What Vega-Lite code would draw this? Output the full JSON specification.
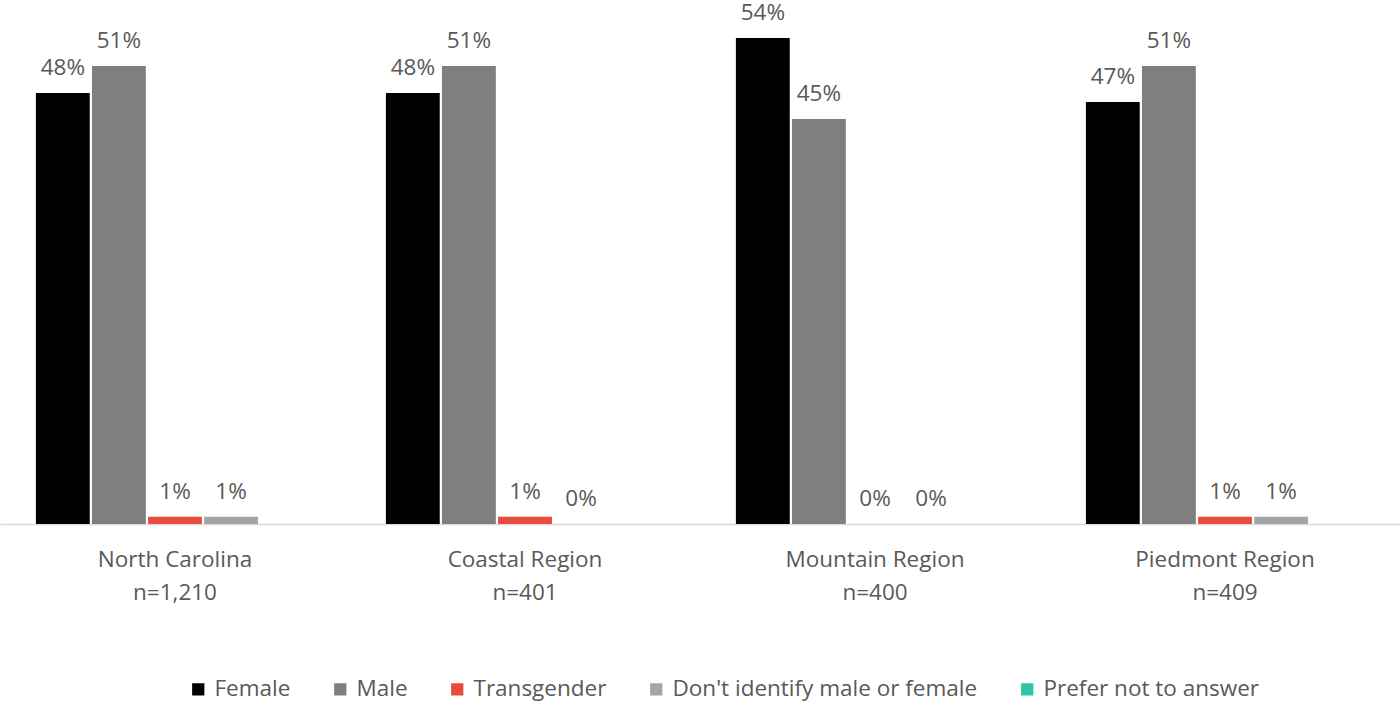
{
  "$schema": "https://vega.github.io/schema/vega-lite/v6.json",
  "autosize": "none",
  "width": 1400,
  "height": 522,
  "padding": {"top": 2, "left": 0, "right": 0, "bottom": 182},
  "background": "white",
  "config": {
    "view": {"stroke": null},
    "font": "Open Sans",
    "text": {"font": "Open Sans"}
  },
  "data": {
    "values": [
      {"region": "North Carolina|n=1,210", "gender": "Female", "value": 0.479, "label": "48%"},
      {"region": "North Carolina|n=1,210", "gender": "Male", "value": 0.509, "label": "51%"},
      {"region": "North Carolina|n=1,210", "gender": "Transgender", "value": 0.008, "label": "1%"},
      {"region": "North Carolina|n=1,210", "gender": "Don't identify male or female", "value": 0.008, "label": "1%"},
      {"region": "Coastal Region|n=401", "gender": "Female", "value": 0.479, "label": "48%"},
      {"region": "Coastal Region|n=401", "gender": "Male", "value": 0.509, "label": "51%"},
      {"region": "Coastal Region|n=401", "gender": "Transgender", "value": 0.008, "label": "1%"},
      {"region": "Coastal Region|n=401", "gender": "Don't identify male or female", "value": 0.0, "label": "0%"},
      {"region": "Mountain Region|n=400", "gender": "Female", "value": 0.54, "label": "54%"},
      {"region": "Mountain Region|n=400", "gender": "Male", "value": 0.45, "label": "45%"},
      {"region": "Mountain Region|n=400", "gender": "Transgender", "value": 0.0, "label": "0%"},
      {"region": "Mountain Region|n=400", "gender": "Don't identify male or female", "value": 0.0, "label": "0%"},
      {"region": "Piedmont Region|n=409", "gender": "Female", "value": 0.469, "label": "47%"},
      {"region": "Piedmont Region|n=409", "gender": "Male", "value": 0.509, "label": "51%"},
      {"region": "Piedmont Region|n=409", "gender": "Transgender", "value": 0.008, "label": "1%"},
      {"region": "Piedmont Region|n=409", "gender": "Don't identify male or female", "value": 0.008, "label": "1%"}
    ]
  },
  "encoding": {
    "x": {
      "field": "region",
      "type": "nominal",
      "sort": null,
      "scale": {"paddingInner": 0, "paddingOuter": 0},
      "axis": {
        "title": null,
        "labelAngle": 0,
        "labelExpr": "split(datum.label, '|')",
        "labelFont": "Open Sans",
        "labelFontSize": 22.5,
        "labelColor": "#595959",
        "labelLineHeight": 33,
        "labelPadding": 24,
        "ticks": false,
        "domainColor": "#d9d9d9",
        "domainWidth": 1.5
      }
    },
    "xOffset": {
      "field": "gender",
      "type": "nominal",
      "scale": {
        "domain": ["Female", "Male", "Transgender", "Don't identify male or female", "Prefer not to answer"],
        "paddingInner": 0.04,
        "paddingOuter": 0.64
      }
    },
    "y": {
      "field": "value",
      "type": "quantitative",
      "scale": {"domain": [0, 0.58], "nice": false, "zero": true},
      "axis": null
    }
  },
  "layer": [
    {
      "mark": {"type": "bar"},
      "encoding": {
        "color": {
          "field": "gender",
          "type": "nominal",
          "scale": {
            "domain": ["Female", "Male", "Transgender", "Don't identify male or female", "Prefer not to answer"],
            "range": ["#000000", "#7f7f7f", "#e74c3c", "#a5a5a5", "#2ec4a6"]
          },
          "legend": {
            "title": null,
            "orient": "none",
            "legendX": 187,
            "legendY": 676,
            "direction": "horizontal",
            "columns": 5,
            "symbolType": "square",
            "symbolSize": 150,
            "symbolStrokeWidth": 0,
            "labelFont": "Open Sans",
            "labelFontSize": 22.5,
            "labelColor": "#595959",
            "labelOffset": 5,
            "columnPadding": 38,
            "labelLimit": 400
          }
        }
      }
    },
    {
      "mark": {
        "type": "text",
        "baseline": "alphabetic",
        "dy": -18,
        "fontSize": 22.5,
        "color": "#595959",
        "font": "Open Sans"
      },
      "encoding": {
        "text": {"field": "label"}
      }
    }
  ]
}
